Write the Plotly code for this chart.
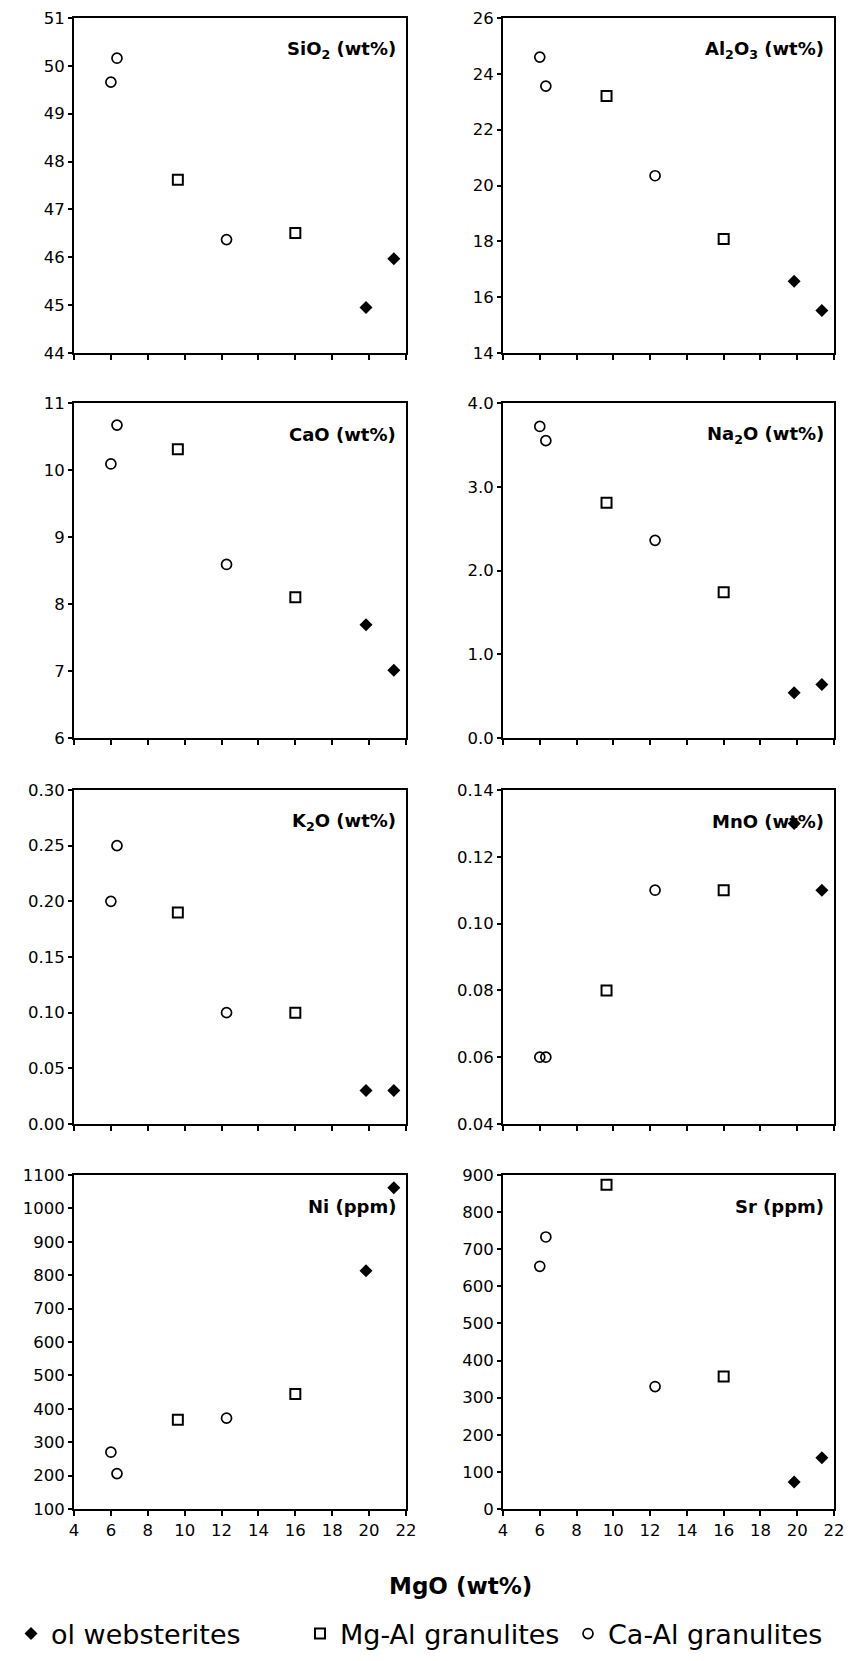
import plotly.graph_objects as go

# MgO (wt%) for each sample group
mgo_ol = [19.83, 21.34]
mgo_mgal = [9.63, 16.0]
mgo_caal = [6.0, 6.33, 12.27]

# oxide / trace values per group
sio2_ol = [44.95, 45.97]
sio2_mgal = [47.62, 46.51]
sio2_caal = [49.66, 50.16, 46.37]

al2o3_ol = [16.57, 15.52]
al2o3_mgal = [23.21, 18.08]
al2o3_caal = [24.60, 23.56, 20.35]

cao_ol = [7.69, 7.01]
cao_mgal = [10.31, 8.10]
cao_caal = [10.09, 10.67, 8.59]

na2o_ol = [0.54, 0.64]
na2o_mgal = [2.81, 1.74]
na2o_caal = [3.72, 3.55, 2.36]

k2o_ol = [0.03, 0.03]
k2o_mgal = [0.19, 0.10]
k2o_caal = [0.20, 0.25, 0.10]

mno_ol = [0.13, 0.11]
mno_mgal = [0.08, 0.11]
mno_caal = [0.06, 0.06, 0.11]

ni_ol = [813, 1062]
ni_mgal = [367, 444]
ni_caal = [270, 206, 372]

sr_ol = [73, 138]
sr_mgal = [874, 357]
sr_caal = [654, 733, 330]

panel_titles = ["SiO<sub>2</sub> (wt%)", "Al<sub>2</sub>O<sub>3</sub> (wt%)",
                "CaO (wt%)", "Na<sub>2</sub>O (wt%)",
                "K<sub>2</sub>O (wt%)", "MnO (wt%)",
                "Ni (ppm)", "Sr (ppm)"]
panel_ranges = [[44, 51], [14, 26], [6, 11], [0, 4], [0, 0.30], [0.04, 0.14], [100, 1100], [0, 900]]
panel_dticks = [1, 2, 1, 1, 0.05, 0.02, 100, 100]
panel_formats = ["d", "d", "d", ".1f", ".2f", ".2f", "d", "d"]
xticks = [4, 6, 8, 10, 12, 14, 16, 18, 20, 22]

series_names = ["ol websterites", "Mg-Al granulites", "Ca-Al granulites"]
panels = [
    (sio2_ol, sio2_mgal, sio2_caal),
    (al2o3_ol, al2o3_mgal, al2o3_caal),
    (cao_ol, cao_mgal, cao_caal),
    (na2o_ol, na2o_mgal, na2o_caal),
    (k2o_ol, k2o_mgal, k2o_caal),
    (mno_ol, mno_mgal, mno_caal),
    (ni_ol, ni_mgal, ni_caal),
    (sr_ol, sr_mgal, sr_caal),
]

W, H = 854, 1661
OFF = 8  # default page body margin offset
col_px = [(74 - OFF, 406 - OFF), (503 - OFF, 834 - OFF)]
row_px = [(18 - OFF, 353 - OFF), (403 - OFF, 738 - OFF), (790 - OFF, 1124 - OFF), (1175 - OFF, 1509 - OFF)]

fig = go.Figure()
layout = {}
tick_font = dict(family="DejaVu Sans", size=16.5, color="black")

for i, (ol, mgal, caal) in enumerate(panels):
    r, c = divmod(i, 2)
    n = i + 1
    xa = "x" if n == 1 else f"x{n}"
    ya = "y" if n == 1 else f"y{n}"
    first = (i == 0)
    fig.add_trace(go.Scatter(
        x=mgo_ol, y=ol, mode="markers", name=series_names[0], xaxis=xa, yaxis=ya,
        legend="legend", showlegend=first, cliponaxis=False,
        marker=dict(symbol="diamond", size=10, color="black", line=dict(width=0))))
    fig.add_trace(go.Scatter(
        x=mgo_mgal, y=mgal, mode="markers", name=series_names[1], xaxis=xa, yaxis=ya,
        legend="legend2", showlegend=first, cliponaxis=False,
        marker=dict(symbol="square-open", size=10, color="black", line=dict(width=2))))
    fig.add_trace(go.Scatter(
        x=mgo_caal, y=caal, mode="markers", name=series_names[2], xaxis=xa, yaxis=ya,
        legend="legend3", showlegend=first, cliponaxis=False,
        marker=dict(symbol="circle-open", size=10, color="black", line=dict(width=1.7))))

    x0, x1 = col_px[c]
    t0, t1 = row_px[r]
    xkey = "xaxis" if n == 1 else f"xaxis{n}"
    ykey = "yaxis" if n == 1 else f"yaxis{n}"
    layout[xkey] = dict(
        domain=[x0 / W, x1 / W], anchor=ya, range=[4, 22],
        tickmode="array", tickvals=xticks,
        showticklabels=(r == 3), ticks="outside", ticklen=5, tickwidth=1.5,
        tickcolor="black", showline=True, linecolor="black", linewidth=1.8,
        mirror=True, showgrid=False, zeroline=False, tickfont=tick_font)
    layout[ykey] = dict(
        domain=[1 - t1 / H, 1 - t0 / H], anchor=xa, range=panel_ranges[i],
        tick0=panel_ranges[i][0], dtick=panel_dticks[i], tickformat=panel_formats[i],
        ticks="outside", ticklen=4, tickwidth=1.5, tickcolor="black",
        showline=True, linecolor="black", linewidth=1.8, mirror=True,
        showgrid=False, zeroline=False, tickfont=tick_font)

annotations = []
for i, t in enumerate(panel_titles):
    n = i + 1
    xa = "x" if n == 1 else f"x{n}"
    ya = "y" if n == 1 else f"y{n}"
    annotations.append(dict(
        text=f"<b>{t}</b>", xref=f"{xa} domain", yref=f"{ya} domain",
        x=0.975, y=0.905, xanchor="right", yanchor="middle", showarrow=False,
        font=dict(family="DejaVu Sans", size=18, color="black")))

annotations.append(dict(
    text="<b>MgO (wt%)</b>", xref="paper", yref="paper",
    x=452 / W, y=1 - 1578 / H, xanchor="center", yanchor="middle", showarrow=False,
    font=dict(family="DejaVu Sans", size=23, color="black")))

legend_font = dict(family="DejaVu Sans", size=27, color="black")
legend_y = 1 - 1626 / H
legend_common = dict(orientation="h", y=legend_y, xanchor="left", yanchor="middle",
                     font=legend_font, itemwidth=30, bgcolor="rgba(0,0,0,0)")
legend_lefts = [3, 292, 560]

fig.update_layout(
    width=W, height=H,
    margin=dict(l=0, r=0, t=0, b=0, autoexpand=False),
    paper_bgcolor="white", plot_bgcolor="white",
    showlegend=True,
    legend=dict(x=legend_lefts[0] / W, **legend_common),
    legend2=dict(x=legend_lefts[1] / W, **legend_common),
    legend3=dict(x=legend_lefts[2] / W, **legend_common),
    annotations=annotations,
    **layout,
)

fig.write_html("out.html")
